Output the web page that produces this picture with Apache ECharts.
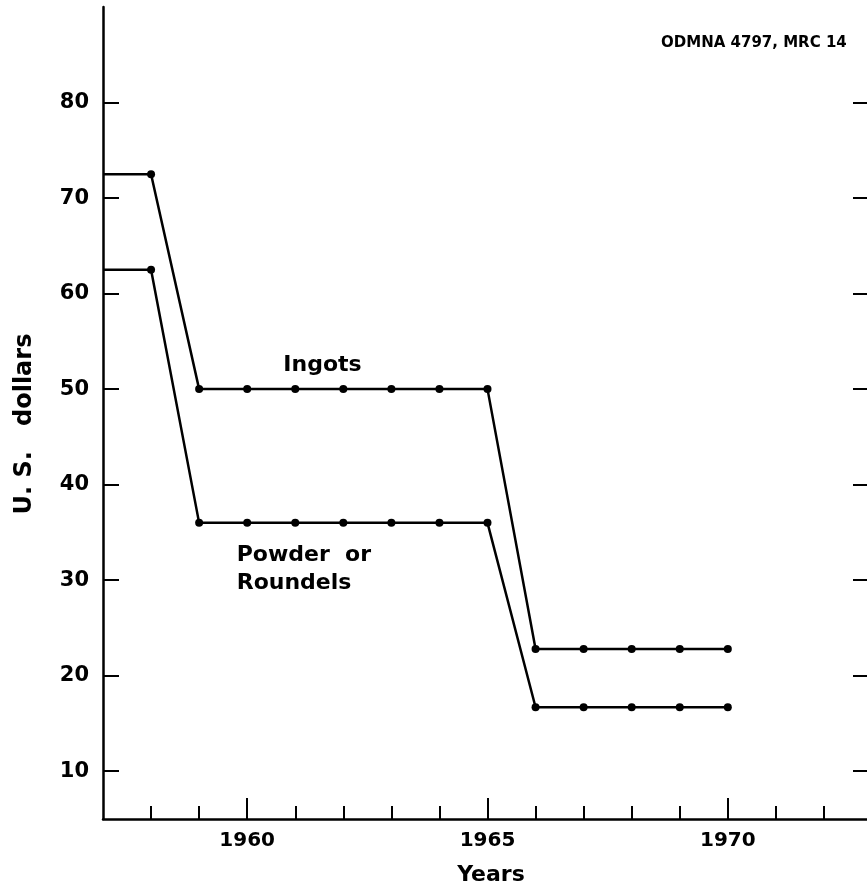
<!DOCTYPE html>
<html>
<head>
<meta charset="utf-8">
<script src="https://cdn.jsdelivr.net/npm/echarts@6/dist/echarts.min.js"></script>
<style>
html,body{margin:0;padding:0;background:#fff;}
#chart{width:867px;height:893px;}
</style>
</head>
<body>
<div id="chart"></div>
<script>
// ---- data ----
const years = [1957, 1958, 1959, 1960, 1961, 1962, 1963, 1964, 1965, 1966, 1967, 1968, 1969, 1970];
const ingots = [72.5, 72.5, 50, 50, 50, 50, 50, 50, 50, 22.8, 22.8, 22.8, 22.8, 22.8];
const powder = [62.5, 62.5, 36, 36, 36, 36, 36, 36, 36, 16.7, 16.7, 16.7, 16.7, 16.7];
const yTickValues = [10, 20, 30, 40, 50, 60, 70, 80];
const xMajorTicks = [1960, 1965, 1970];
const xMinorTicks = [1958, 1959, 1960, 1961, 1962, 1963, 1964, 1965, 1966, 1967, 1968, 1969, 1970, 1971, 1972];
const seriesNames = ['Ingots', 'Powder or Roundels'];

const FONT = 'DejaVu Sans';
const INK = '#000';

function buildData(vals) {
  return years.map((y, i) => i === 0 ? { value: [y, vals[i]], symbol: 'none' } : [y, vals[i]]);
}

const chart = echarts.init(document.getElementById('chart'), null, { renderer: 'canvas' });

const lineSeries = (name, vals) => ({
  name: name,
  type: 'line',
  xAxisIndex: 0,
  yAxisIndex: 0,
  data: buildData(vals),
  symbol: 'circle',
  symbolSize: 8,
  showAllSymbol: true,
  lineStyle: { color: INK, width: 2.5 },
  itemStyle: { color: INK },
  emphasis: { disabled: true },
  silent: true,
  clip: false
});

chart.setOption({
  animation: false,
  backgroundColor: '#fff',
  grid: { left: 103, top: 7, bottom: 74, right: -5, containLabel: false, outerBoundsMode: 'none' },
  xAxis: [
    {
      type: 'value', min: 1957, max: 1973, position: 'bottom',
      axisLine: { show: true, onZero: false, lineStyle: { color: INK, width: 2.5 } },
      axisTick: { show: true, inside: true, length: 13, customValues: xMinorTicks, lineStyle: { color: INK, width: 2 } },
      axisLabel: { show: true, customValues: xMajorTicks, margin: 12, color: INK, fontFamily: FONT, fontWeight: 'bold', fontSize: 20, formatter: v => String(v) },
      splitLine: { show: false }
    },
    {
      type: 'value', min: 1957, max: 1973, position: 'bottom',
      axisLine: { show: false },
      axisTick: { show: true, inside: true, length: 21, customValues: xMajorTicks, lineStyle: { color: INK, width: 2 } },
      axisLabel: { show: false },
      splitLine: { show: false }
    }
  ],
  yAxis: [
    {
      type: 'value', min: 5, max: 90, position: 'left',
      axisLine: { show: true, onZero: false, lineStyle: { color: INK, width: 2.5 } },
      axisTick: { show: true, inside: true, length: 16, customValues: yTickValues, lineStyle: { color: INK, width: 2 } },
      axisLabel: { show: true, customValues: yTickValues, margin: 14, color: INK, fontFamily: FONT, fontWeight: 'bold', fontSize: 21 },
      splitLine: { show: false }
    },
    {
      type: 'value', min: 5, max: 90, position: 'right',
      axisLine: { show: false },
      axisTick: { show: true, inside: true, length: 19, customValues: yTickValues, lineStyle: { color: INK, width: 2 } },
      axisLabel: { show: false },
      splitLine: { show: false }
    }
  ],
  graphic: [
    { type: 'text', left: 661, top: 36, style: { text: 'ODMNA 4797, MRC 14', fill: INK, font: 'bold 15px "DejaVu Sans"' } },
    { type: 'text', x: 322.5, y: 365, style: { text: seriesNames[0], fill: INK, font: 'bold 22px "DejaVu Sans"', align: 'center', verticalAlign: 'middle' } },
    { type: 'text', x: 236.7, y: 555.5, style: { text: 'Powder  or', fill: INK, font: 'bold 22px "DejaVu Sans"', align: 'left', verticalAlign: 'middle' } },
    { type: 'text', x: 236.7, y: 583, style: { text: 'Roundels', fill: INK, font: 'bold 22px "DejaVu Sans"', align: 'left', verticalAlign: 'middle' } },
    { type: 'text', x: 491, y: 875, style: { text: 'Years', fill: INK, font: 'bold 22px "DejaVu Sans"', align: 'center', verticalAlign: 'middle' } },
    { type: 'text', x: 25, y: 424, rotation: Math.PI / 2, style: { text: 'U. S.   dollars', fill: INK, font: 'bold 24px "DejaVu Sans"', align: 'center', verticalAlign: 'middle' } }
  ],
  series: [
    lineSeries(seriesNames[0], ingots),
    lineSeries(seriesNames[1], powder)
  ]
});
</script>
</body>
</html>
